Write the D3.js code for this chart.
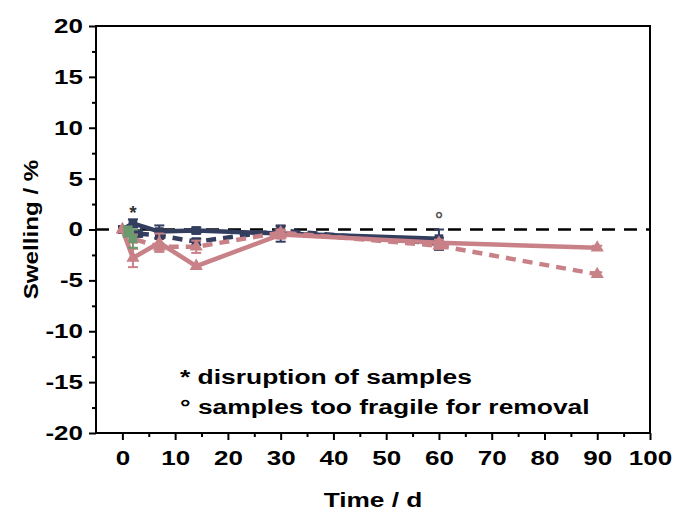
<!DOCTYPE html>
<html>
<head>
<meta charset="utf-8">
<script src="https://cdn.jsdelivr.net/npm/d3@7"></script>
<style>
  body { margin: 0; background: #fff; }
  text { font-family: "Liberation Sans", Arial, sans-serif; font-weight: bold; }
</style>
</head>
<body>
<div id="vis"></div>
<script>
// swelling data, [time in days, swelling %, error]
let navySolid = [[0, 0, 0], [2, 0.6, 0.4], [7, -0.2, 0.6], [14, -0.1, 0.3], [30, -0.4, 0.8], [60, -0.9, 0.9]]
let navyDashed = [[0, 0, 0], [3, -0.4, 0.3], [7, -0.6, 0.3], [14, -1.2, 0.3], [30, -0.1, 0.4], [60, -1.4, 0.6]]
let pinkSolid = [[0, 0, 0], [2, -2.8, 0.9], [7, -1.3, 0.9], [14, -3.6, 0.2], [30, -0.5, 0.4], [60, -1.3, 0.3], [90, -1.8, 0.2]]
let pinkDashed = [[0, 0, 0], [2, -0.9, 0.4], [7, -1.7, 0.3], [14, -1.7, 0.6], [30, -0.3, 0.3], [60, -1.6, 0.3], [90, -4.4, 0.2]]
let greenLine = [[1, -0.2, 0.5], [2, -0.9, 0.9]]

let xTicks = [0, 10, 20, 30, 40, 50, 60, 70, 80, 90, 100]
let yTicks = [-20, -15, -10, -5, 0, 5, 10, 15, 20]
let notes = ["* disruption of samples", "\u00b0 samples too fragile for removal"]

let margin = { top: 26, left: 96 },
    width = 554,
    height = 407

let svg = d3.select("#vis").append("svg")
    .attr("width", 673)
    .attr("height", 511)

let g = svg.append("g").attr("transform", "translate(" + margin.left + "," + margin.top + ")")

let x = d3.scaleLinear().domain([-5, 100]).range([0, width])
let y = d3.scaleLinear().domain([-20, 20]).range([height, 0])

// the source text looks stretched sideways, so widen the glyphs
function stretch(sel, k) {
    sel.each(function() {
        let len = this.getComputedTextLength()
        d3.select(this).attr("textLength", len * k).attr("lengthAdjust", "spacingAndGlyphs")
    })
}

// plain hyphen for negatives, like the original
let fmt = function(d) { return String(d) }

// frame
g.append("rect")
    .attr("width", width).attr("height", height)
    .style("fill", "none").style("stroke", "#000").style("stroke-width", 2)

// bottom axis
let xAx = g.append("g").attr("transform", "translate(0," + height + ")")
    .call(d3.axisBottom(x).tickValues(xTicks).tickFormat(fmt).tickSize(7).tickPadding(11))
xAx.append("g").call(d3.axisBottom(x).tickValues(d3.range(5, 100, 10)).tickSize(4).tickFormat(""))
xAx.selectAll(".domain").remove()
xAx.selectAll("line").style("stroke-width", 2)
xAx.selectAll("text").style("font-size", "20px").style("fill", "#000").call(stretch, 1.3)

// left axis
let yAx = g.append("g")
    .call(d3.axisLeft(y).tickValues(yTicks).tickFormat(fmt).tickSize(7).tickPadding(6))
yAx.append("g").call(d3.axisLeft(y).tickValues(d3.range(-17.5, 20, 5)).tickSize(4).tickFormat(""))
yAx.selectAll(".domain").remove()
yAx.selectAll("line").style("stroke-width", 2)
yAx.selectAll("text").style("font-size", "20px").style("fill", "#000").call(stretch, 1.3)

// zero line
g.append("line")
    .attr("x1", 0).attr("x2", width)
    .attr("y1", y(0)).attr("y2", y(0))
    .style("stroke", "#000").style("stroke-width", 2.5).style("stroke-dasharray", "13,9")

let line = d3.line().x(function(d) { return x(d[0]) }).y(function(d) { return y(d[1]) })

function drawSeries(data, color, dashed, shape) {
    let s = g.append("g")
    // error bars
    data.forEach(function(d) {
        if (d[2] > 0) {
            s.append("line").attr("x1", x(d[0])).attr("x2", x(d[0]))
                .attr("y1", y(d[1] + d[2])).attr("y2", y(d[1] - d[2]))
                .style("stroke", color).style("stroke-width", 2)
            ;[d[1] + d[2], d[1] - d[2]].forEach(function(v) {
                s.append("line").attr("x1", x(d[0]) - 5).attr("x2", x(d[0]) + 5)
                    .attr("y1", y(v)).attr("y2", y(v))
                    .style("stroke", color).style("stroke-width", 2)
            })
        }
    })
    s.append("path").datum(data)
        .attr("d", line)
        .style("fill", "none")
        .style("stroke", color)
        .style("stroke-width", 4.5)
        .style("stroke-dasharray", dashed ? "10,7" : null)
    s.selectAll(".pt").data(data).enter().append("path")
        .attr("transform", function(d) { return "translate(" + x(d[0]) + "," + y(d[1]) + ")" })
        .attr("d", d3.symbol().type(shape).size(75))
        .style("fill", color)
}

drawSeries(navyDashed, "#333d5e", true, d3.symbolSquare)
drawSeries(navySolid, "#333d5e", false, d3.symbolSquare)
drawSeries(pinkDashed, "#c98188", true, d3.symbolTriangle)
drawSeries(pinkSolid, "#c98188", false, d3.symbolTriangle)
drawSeries(greenLine, "#6b9a6e", false, d3.symbolSquare)

// markers above points
g.append("text").attr("x", x(2)).attr("y", y(1.0))
    .attr("text-anchor", "middle").style("font-size", "19px").style("fill", "#333").text("*")
g.append("text").attr("x", x(60)).attr("y", y(0.3))
    .attr("text-anchor", "middle").style("font-size", "20px").style("fill", "#555").text("\u00b0")

// notes
g.selectAll(".note").data(notes).enter().append("text")
    .attr("x", 84).attr("y", function(d, i) { return 358 + i * 30 })
    .style("font-size", "20px").style("fill", "#000")
    .text(function(d) { return d })
    .call(stretch, 1.32)

// axis labels
svg.append("text")
    .attr("transform", "translate(" + (margin.left + width / 2) + ",507)")
    .attr("text-anchor", "middle").style("font-size", "21px").text("Time / d")
    .call(stretch, 1.25)
svg.append("text")
    .attr("transform", "rotate(-90)")
    .attr("x", -(margin.top + height / 2)).attr("y", 38)
    .attr("text-anchor", "middle").style("font-size", "21px").text("Swelling / %")
    .call(stretch, 1.15)
</script>
</body>
</html>
